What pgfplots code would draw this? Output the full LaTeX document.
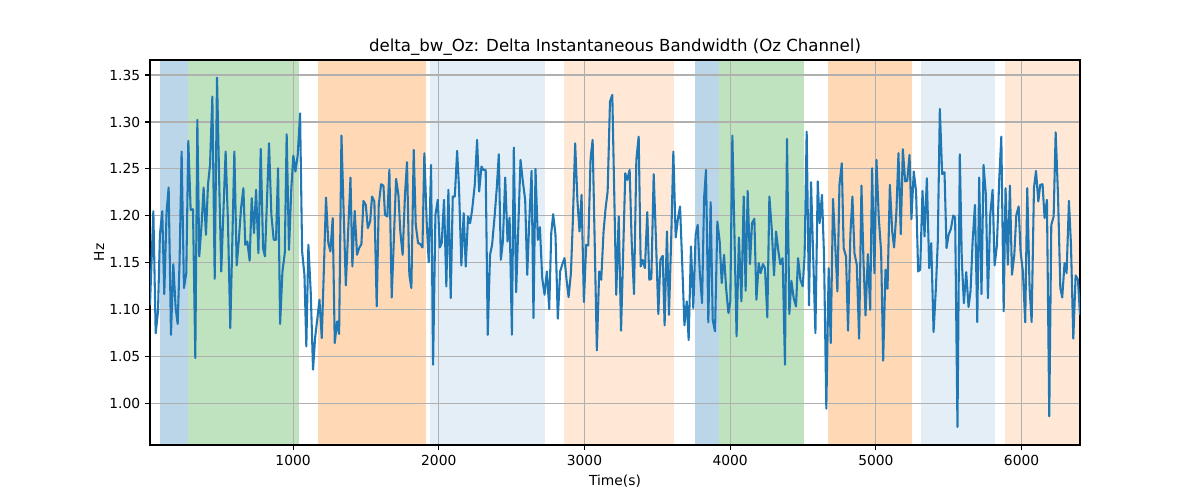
\documentclass[border=0pt]{standalone}
\usepackage{pgfplots}
\pgfplotsset{compat=1.18}
\usepackage{fontspec}
\setmainfont{DejaVu Sans}
\definecolor{tabblue}{RGB}{31,119,180}
\definecolor{taborange}{RGB}{255,127,14}
\definecolor{tabgreen}{RGB}{44,160,44}
\definecolor{gridgray}{RGB}{176,176,176}
\begin{document}
\begin{tikzpicture}
\begin{axis}[
  set layers,
  scale only axis,
  width=669.6bp, height=277.2bp,
  xmin=18, xmax=6401, ymin=0.956, ymax=1.366,
  xtick={1000,2000,3000,4000,5000,6000},
  ytick={1.00,1.05,1.10,1.15,1.20,1.25,1.30,1.35},
  yticklabel style={/pgf/number format/.cd,fixed,fixed zerofill,precision=2},
  /pgf/number format/assume math mode=true,
  scaled x ticks=false,
  xticklabel style={/pgf/number format/1000 sep={}},
  xtick pos=bottom, ytick pos=left,
  grid=major,
  major grid style={draw=gridgray, line width=0.8pt},
  tick align=outside,
  major tick length=3.5bp,
  tick style={black, line width=0.8pt},
  axis line style={line width=0.8pt},
  ticklabel style={font=\fontsize{10}{12}\selectfont},
  title={delta\_bw\_Oz: Delta Instantaneous Bandwidth (Oz Channel)},
  title style={font=\fontsize{12}{14}\selectfont, yshift=-6bp},
  xlabel={Time(s)}, ylabel={Hz},
  label style={font=\fontsize{10}{12}\selectfont},
  xlabel style={yshift=0bp},
  ylabel style={yshift=-3bp},
]
% shaded spans
\addplot[on layer=axis background, draw=none, fill=tabblue, fill opacity=0.3] coordinates {(88,0.956) (88,1.366) (279,1.366) (279,0.956)};
\addplot[on layer=axis background, draw=none, fill=tabgreen, fill opacity=0.3] coordinates {(279,0.956) (279,1.366) (1041,1.366) (1041,0.956)};
\addplot[on layer=axis background, draw=none, fill=taborange, fill opacity=0.3] coordinates {(1169,0.956) (1169,1.366) (1913,1.366) (1913,0.956)};
\addplot[on layer=axis background, draw=none, fill=tabblue, fill opacity=0.12] coordinates {(1943,0.956) (1943,1.366) (2731,1.366) (2731,0.956)};
\addplot[on layer=axis background, draw=none, fill=taborange, fill opacity=0.17] coordinates {(2857,0.956) (2857,1.366) (3612,1.366) (3612,0.956)};
\addplot[on layer=axis background, draw=none, fill=tabblue, fill opacity=0.3] coordinates {(3758,0.956) (3758,1.366) (3923,1.366) (3923,0.956)};
\addplot[on layer=axis background, draw=none, fill=tabgreen, fill opacity=0.3] coordinates {(3923,0.956) (3923,1.366) (4509,1.366) (4509,0.956)};
\addplot[on layer=axis background, draw=none, fill=taborange, fill opacity=0.3] coordinates {(4672,0.956) (4672,1.366) (5247,1.366) (5247,0.956)};
\addplot[on layer=axis background, draw=none, fill=tabblue, fill opacity=0.12] coordinates {(5308,0.956) (5308,1.366) (5821,1.366) (5821,0.956)};
\addplot[on layer=axis background, draw=none, fill=taborange, fill opacity=0.17] coordinates {(5885,0.956) (5885,1.366) (6401,1.366) (6401,0.956)};
% signal
\addplot[tabblue, line width=1.5pt, mark=none, line join=round] coordinates {
(18,1.105) (41,1.205) (57,1.075) (73,1.0983) (86,1.1798) (102,1.205) (116,1.1167) (132,1.2046) (146,1.2302) (162,1.0734)
(178,1.1486) (194,1.1018) (208,1.0848) (221,1.1514) (235,1.2685) (251,1.1231) (267,1.1390) (281,1.2798) (297,1.2064) (313,1.2071)
(329,1.0486) (343,1.3022) (356,1.1568) (372,1.1904) (386,1.2302) (402,1.1798) (416,1.2330) (430,1.2543) (446,1.3270) (462,1.1330)
(478,1.3472) (494,1.2295) (507,1.1408) (521,1.2011) (537,1.2685) (553,1.1940) (569,1.0805) (583,1.1727) (597,1.2685) (613,1.1472)
(627,1.1727) (643,1.2082) (659,1.2295) (672,1.1692) (686,1.1727) (702,1.1522) (716,1.2188) (732,1.1816) (746,1.2277) (762,1.1603)
(778,1.2713) (794,1.1656) (807,1.1568) (835,1.2773) (851,1.2011) (867,1.1745) (883,1.1745) (897,1.2507) (911,1.0848) (927,1.1408)
(943,1.1603) (956,1.2869) (972,1.1639) (988,1.2295) (1002,1.2642) (1016,1.2472) (1032,1.2649) (1048,1.3092) (1062,1.1621) (1078,1.1373)
(1091,1.0610) (1105,1.1692) (1121,1.1195) (1137,1.0362) (1151,1.0699) (1167,1.0912) (1181,1.1107) (1197,1.0699) (1213,1.1514) (1226,1.2195)
(1242,1.1710) (1256,1.1621) (1272,1.1976) (1286,1.0646) (1302,1.0876) (1316,1.0742) (1332,1.2855) (1345,1.2153) (1362,1.1259) (1378,1.1834)
(1394,1.2408) (1407,1.1461) (1423,1.2053) (1439,1.1585) (1453,1.1656) (1469,1.1699) (1483,1.2160) (1499,1.2117) (1513,1.1869) (1529,1.1940)
(1542,1.2206) (1558,1.2153) (1574,1.1036) (1588,1.2117) (1604,1.2337) (1620,1.2323) (1631,1.2011) (1647,1.1993) (1661,1.2490) (1677,1.1131)
(1707,1.2394) (1723,1.2224) (1736,1.1834) (1752,1.1585) (1768,1.2224) (1782,1.2571) (1798,1.1373) (1812,1.1231) (1828,1.2702) (1842,1.1904)
(1858,1.1710) (1874,1.1699) (1888,1.1663) (1901,1.2667) (1917,1.1940) (1931,1.1507) (1947,1.2543) (1961,1.0415) (1977,1.2011) (1993,1.2171)
(2007,1.1663) (2020,1.1710) (2036,1.2171) (2052,1.1249) (2066,1.2277) (2082,1.1124) (2096,1.2206) (2110,1.2206) (2126,1.2692) (2139,1.2295)
(2155,1.1472) (2171,1.2029) (2185,1.1461) (2201,1.1993) (2215,1.1922) (2229,1.2064) (2247,1.2330) (2263,1.2809) (2277,1.2259) (2293,1.2525)
(2306,1.2490) (2322,1.2490) (2336,1.0734) (2352,1.1585) (2366,1.1692) (2384,1.2011) (2398,1.2295) (2412,1.2656) (2426,1.1532) (2440,1.1727)
(2456,1.2408) (2472,1.1727) (2486,1.1983) (2502,1.0734) (2515,1.2727) (2531,1.1188) (2561,1.2596) (2577,1.2366) (2593,1.2171) (2607,1.1373)
(2621,1.1940) (2637,1.2479) (2650,1.0912) (2664,1.2500) (2680,1.1745) (2694,1.1880) (2710,1.1337) (2726,1.1160) (2742,1.1408) (2758,1.1008)
(2772,1.1816) (2785,1.2018) (2801,1.1798) (2817,1.0905) (2833,1.1408) (2847,1.1479) (2863,1.1550) (2877,1.1319) (2891,1.1135) (2907,1.1390)
(2920,1.1940) (2936,1.2773) (2952,1.2153) (2966,1.1834) (2980,1.2224) (2996,1.1082) (3012,1.1692) (3026,1.1685) (3042,1.2614) (3056,1.2809)
(3085,1.0568) (3101,1.1408) (3115,1.1319) (3131,1.1834) (3145,1.2082) (3159,1.2259) (3175,1.3217) (3191,1.3288) (3218,1.1160) (3235,1.1993)
(3251,1.0777) (3264,1.1514) (3280,1.2454) (3294,1.2383) (3310,1.2490) (3324,1.1727) (3340,1.1167) (3356,1.2596) (3372,1.2844) (3386,1.1461)
(3399,1.1532) (3415,1.1443) (3431,1.2039) (3445,1.1319) (3459,1.1330) (3475,1.2444) (3491,1.1727) (3507,1.0954) (3521,1.1532) (3537,1.1575)
(3550,1.0834) (3566,1.1834) (3580,1.0947) (3596,1.1798) (3610,1.2685) (3626,1.1770) (3642,1.1976) (3656,1.2100) (3672,1.1443) (3686,1.0834)
(3702,1.1089) (3715,1.0677) (3731,1.1674) (3747,1.1018) (3763,1.1798) (3777,1.1904) (3791,1.1408) (3807,1.1071) (3821,1.2188) (3834,1.2490)
(3850,1.0866) (3866,1.2146) (3880,1.0894) (3896,1.0770) (3912,1.1940) (3928,1.1727) (3942,1.1284) (3958,1.1585) (3972,1.1231) (3988,1.0965)
(4001,1.1089) (4015,1.2855) (4044,1.0717) (4060,1.1770) (4077,1.1089) (4093,1.2206) (4106,1.1202) (4120,1.2266) (4136,1.1486) (4150,1.1922)
(4166,1.1969) (4180,1.1107) (4196,1.1497) (4209,1.1390) (4225,1.1486) (4239,1.1443) (4255,1.0919) (4269,1.2206) (4285,1.1869) (4301,1.1366)
(4315,1.1834) (4331,1.1621) (4344,1.1486) (4360,1.1550) (4376,1.0415) (4390,1.2820) (4406,1.0954) (4420,1.1309) (4436,1.1124) (4452,1.1036)
(4466,1.1550) (4482,1.1319) (4498,1.1249) (4511,1.1585) (4525,1.2897) (4541,1.1046) (4555,1.2359) (4585,1.0752) (4601,1.2366) (4614,1.1922)
(4630,1.2224) (4644,1.1585) (4660,0.9947) (4676,1.1443) (4690,1.0646) (4706,1.2181) (4720,1.1727) (4736,1.1195) (4750,1.2330) (4766,1.2560)
(4779,1.1656) (4795,1.1568) (4809,1.0777) (4825,1.1798) (4839,1.2206) (4853,1.1603) (4869,1.1479) (4885,1.0692) (4901,1.2323) (4915,1.1514)
(4929,1.0940) (4945,1.1592) (4961,1.1000) (4974,1.2507) (4990,1.1390) (5004,1.2596) (5020,1.1976) (5036,1.1621) (5050,1.0458) (5066,1.1426)
(5080,1.1224) (5096,1.2330) (5112,1.1834) (5125,1.1663) (5141,1.2046) (5155,1.2667) (5171,1.1805) (5185,1.2710) (5201,1.2366) (5215,1.2373)
(5231,1.2649) (5244,1.1965) (5260,1.2472) (5276,1.2259) (5290,1.1408) (5304,1.1426) (5320,1.2266) (5334,1.1781) (5350,1.2401) (5366,1.1443)
(5380,1.1710) (5396,1.0763) (5412,1.1231) (5425,1.1727) (5439,1.3139) (5455,1.2444) (5471,1.2465) (5485,1.1656) (5499,1.1798) (5515,1.1862)
(5531,1.2004) (5544,1.1983) (5560,0.9752) (5576,1.2656) (5590,1.1514) (5604,1.1071) (5620,1.1401) (5636,1.1029) (5650,1.1202) (5664,1.1727)
(5680,1.2117) (5696,1.0869) (5709,1.2408) (5725,1.1167) (5739,1.2543) (5755,1.2224) (5769,1.1124) (5785,1.2011) (5801,1.2277) (5815,1.1472)
(5831,1.1692) (5847,1.2401) (5861,1.2844) (5877,1.0983) (5890,1.2295) (5906,1.1479) (5920,1.2323) (5934,1.1373) (5950,1.1585) (5964,1.2011)
(5980,1.2100) (5993,1.1621) (6009,1.1408) (6025,1.0866) (6039,1.2295) (6055,1.1231) (6069,1.0869) (6085,1.2295) (6099,1.2479) (6115,1.2153)
(6128,1.2330) (6144,1.2337) (6158,1.1976) (6174,1.2171) (6190,0.9866) (6204,1.1904) (6220,1.1993) (6234,1.2890) (6250,1.2224) (6266,1.1231)
(6279,1.1131) (6295,1.1497) (6309,1.1390) (6325,1.2160) (6339,1.1692) (6355,1.0692) (6371,1.1366) (6387,1.1319) (6401,1.0947)
};
\end{axis}
\useasboundingbox ([xshift=-108bp,yshift=-39.6bp]current axis.south west) rectangle ([xshift=86.4bp,yshift=43.2bp]current axis.north east);
\end{tikzpicture}
\end{document}
